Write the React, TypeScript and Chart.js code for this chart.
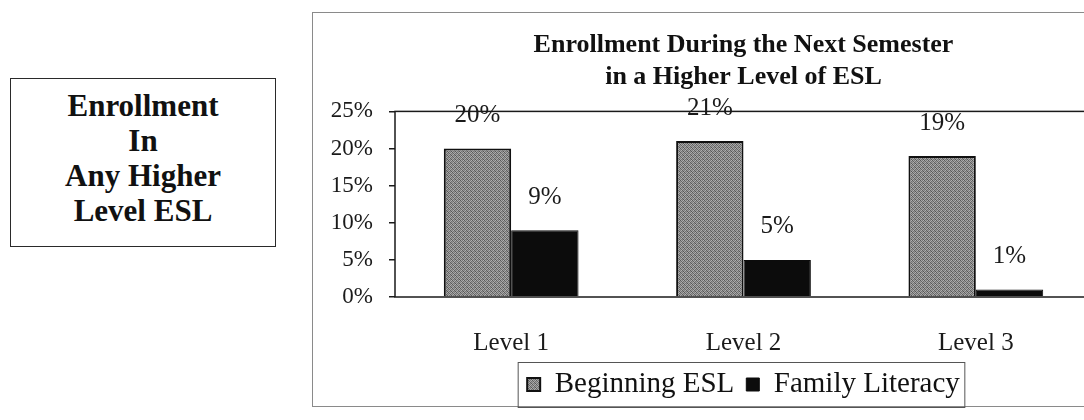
import React, { useEffect, useRef } from "react";
import { Chart, registerables } from "chart.js";

Chart.register(...registerables);

const categories = ["Level 1", "Level 2", "Level 3"];
const beginningEsl = [20, 21, 19];
const familyLiteracy = [9, 5, 1];
const seriesNames = ["Beginning ESL", "Family Literacy"];
const yTicks = [0, 5, 10, 15, 20, 25];
const chartTitle = ["Enrollment During the Next Semester", "in a Higher Level of ESL"];
const sideLines = ["Enrollment", "In", "Any Higher", "Level ESL"];

const SERIF = '"Liberation Serif", "Times New Roman", serif';

function makeStipple(): CanvasPattern | string {
  const c = document.createElement("canvas");
  c.width = 4;
  c.height = 4;
  const ctx = c.getContext("2d");
  if (!ctx) return "#868686";
  const shades = [
    "#5a5a5a", "#a6a6a6", "#787878", "#b2b2b2",
    "#989898", "#666666", "#acacac", "#707070",
    "#7e7e7e", "#b0b0b0", "#606060", "#9c9c9c",
    "#a8a8a8", "#747474", "#929292", "#565656",
  ];
  for (let i = 0; i < 16; i++) {
    ctx.fillStyle = shades[i];
    ctx.fillRect(i % 4, Math.floor(i / 4), 1, 1);
  }
  const p = ctx.createPattern(c, "repeat");
  return p || "#868686";
}

const plotDecor = {
  id: "plotDecor",
  afterDatasetsDraw(chart: any) {
    const { ctx, chartArea } = chart;
    ctx.save();
    ctx.strokeStyle = "#1a1a1a";
    ctx.lineWidth = 1.5;
    ctx.strokeRect(chartArea.left, chartArea.top, chartArea.right - chartArea.left, chartArea.bottom - chartArea.top);
    ctx.font = `25px ${SERIF}`;
    ctx.fillStyle = "#1a1a1a";
    ctx.textAlign = "center";
    ctx.textBaseline = "middle";
    chart.data.datasets.forEach((ds: any, di: number) => {
      const meta = chart.getDatasetMeta(di);
      meta.data.forEach((bar: any, i: number) => {
        ctx.fillText(`${ds.data[i]}%`, bar.x, bar.y - 33);
      });
    });
    ctx.restore();
  },
  afterDraw(chart: any) {
    const lg = chart.legend;
    if (!lg || !lg.legendHitBoxes || !lg.legendHitBoxes.length) return;
    const hbs = lg.legendHitBoxes;
    const left = Math.min(...hbs.map((h: any) => h.left)) - 9;
    const right = Math.max(...hbs.map((h: any) => h.left + h.width)) + 5;
    const mid = hbs[0].top + hbs[0].height / 2;
    const { ctx } = chart;
    ctx.save();
    ctx.strokeStyle = "#555";
    ctx.lineWidth = 1;
    ctx.strokeRect(left, mid - 22, right - left, 45);
    ctx.restore();
  },
};

function BarChart() {
  const ref = useRef<HTMLCanvasElement | null>(null);
  useEffect(() => {
    if (!ref.current) return;
    const stipple = makeStipple();
    const chart = new Chart(ref.current, {
      type: "bar",
      data: {
        labels: categories,
        datasets: [
          {
            label: seriesNames[0],
            data: beginningEsl,
            backgroundColor: stipple as any,
            borderColor: "#111",
            borderWidth: 2,
            categoryPercentage: 0.58,
            barPercentage: 1.0,
          },
          {
            label: seriesNames[1],
            data: familyLiteracy,
            backgroundColor: "#0c0c0c",
            borderColor: "#0c0c0c",
            borderWidth: 1,
            categoryPercentage: 0.58,
            barPercentage: 1.0,
          },
        ],
      },
      options: {
        animation: false,
        responsive: true,
        maintainAspectRatio: false,
        layout: { padding: { top: 0, left: 0, right: 0, bottom: 3 } },
        plugins: {
          title: {
            display: true,
            text: chartTitle,
            fullSize: false,
            color: "#111",
            font: { family: SERIF, size: 26, weight: "bold", lineHeight: 1.2 },
            padding: { top: 18, bottom: 19 },
          },
          legend: {
            position: "bottom",
            fullSize: false,
            labels: {
              font: { family: SERIF, size: 29 },
              color: "#111",
              boxWidth: 13,
              boxHeight: 13,
              padding: 12,
            },
          },
          tooltip: { enabled: false },
        },
        scales: {
          x: {
            afterFit(scale: any) {
              scale.height = 61;
            },
            grid: { display: false, drawTicks: false },
            border: { display: false },
            ticks: { font: { family: SERIF, size: 25 }, color: "#1a1a1a", padding: 31 },
          },
          y: {
            min: 0,
            max: 25,
            afterFit(scale: any) {
              scale.width = 83;
            },
            afterBuildTicks(scale: any) {
              scale.ticks = yTicks.map((v) => ({ value: v }));
            },
            grid: { drawOnChartArea: false, drawTicks: true, tickLength: 6, color: "#1a1a1a", lineWidth: 1.5 },
            border: { display: false },
            ticks: {
              font: { family: SERIF, size: 23 },
              color: "#1a1a1a",
              padding: 16,
              callback: (v: any) => `${v}%`,
            },
          },
        },
      },
      plugins: [plotDecor],
    });
    return () => chart.destroy();
  }, []);
  return <canvas ref={ref} />;
}

export default function App() {
  return (
    <div
      style={{
        position: "fixed",
        left: 0,
        top: 0,
        width: 1084,
        height: 420,
        overflow: "hidden",
        background: "#fff",
      }}
    >
      <div
        style={{
          position: "absolute",
          left: 10,
          top: 78,
          width: 266,
          height: 169,
          boxSizing: "border-box",
          border: "1.5px solid #2a2a2a",
          paddingTop: 9,
          textAlign: "center",
          fontFamily: SERIF,
          fontWeight: "bold",
          fontSize: 31,
          lineHeight: "35px",
          color: "#111",
        }}
      >
        {sideLines.map((l) => (
          <div key={l}>{l}</div>
        ))}
      </div>
      <div
        style={{
          position: "absolute",
          left: 312,
          top: 12,
          width: 800,
          height: 395,
          boxSizing: "border-box",
          border: "1px solid #8a8a8a",
        }}
      />
      <div style={{ position: "absolute", left: 312, top: 12, width: 780, height: 400 }}>
        <BarChart />
      </div>
    </div>
  );
}
